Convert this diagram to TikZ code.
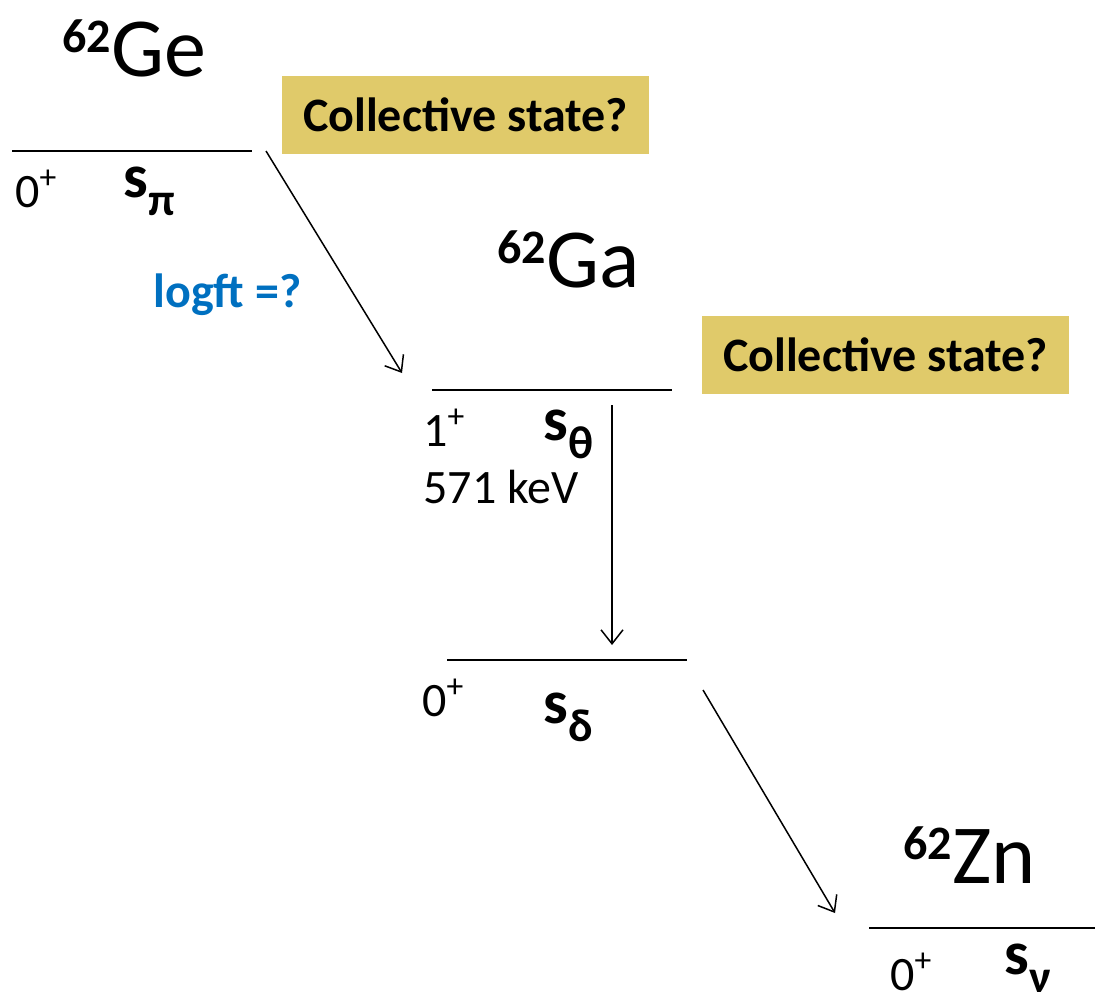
\documentclass[tikz,border=0pt]{standalone}
\usepackage{fontspec}
\setmainfont{Carlito}
\usepackage{xcolor}
\usetikzlibrary{arrows.meta,positioning}

\definecolor{gold}{RGB}{224,202,106}
\definecolor{logblue}{RGB}{0,112,192}

\newcommand{\isotope}[2]{{\fontsize{24pt}{26pt}\selectfont\bfseries\raisebox{12pt}{#1}}{\fontsize{42pt}{45pt}\selectfont #2}}
\newcommand{\spin}[1]{#1\textsuperscript{+}}
\newcommand{\strength}[1]{{\fontsize{31pt}{34pt}\selectfont\bfseries s}\raisebox{-9pt}{\fontsize{23pt}{26pt}\selectfont\bfseries #1}}

\begin{document}
\begin{tikzpicture}[x=0.5pt,y=-0.5pt]
      \tikzset{level/.style={line width=1.25pt}}
      \tikzset{decay/.style={line width=0.75pt,-{Straight Barb[length=7pt,width=11pt]}}}
      \tikzset{nucl/.style={anchor=base west,inner sep=0pt}}
      \tikzset{lbl/.style={anchor=base west,inner sep=0pt,font=\fontsize{24pt}{27pt}\selectfont}}
      \tikzset{question/.style={rectangle,fill=gold,minimum width=183.5pt,minimum height=39pt,inner sep=0pt,font=\fontsize{24pt}{27pt}\selectfont\bfseries}}

      \useasboundingbox (0,0) rectangle (1095,1001);

      % nuclei
      \node[nucl] (ge) at (62,76) {\isotope{62}{Ge}};
      \node[nucl] (ga) at (497,287) {\isotope{62}{Ga}};
      \node[nucl] (zn) at (903,883) {\isotope{62}{Zn}};

      % levels
      \coordinate (gel) at (12,151);
      \coordinate (ger) at (252,151);
      \coordinate (gal) at (432,390);
      \coordinate (gar) at (672,390);
      \coordinate (gsl) at (447,660);
      \coordinate (gsr) at (687,660);
      \coordinate (znl) at (869,928);
      \coordinate (znr) at (1095,928);

      \draw[level] (gel) -- (ger);
      \draw[level] (gal) -- (gar);
      \draw[level] (gsl) -- (gsr);
      \draw[level] (znl) -- (znr);

      % level labels
      \node[lbl] (gespin) at (15,207) {\spin{0}};
      \node[nucl] (ges) at (123,197) {\strength{π}};
      \node[lbl] (gaspin) at (423,446) {\spin{1}};
      \node[nucl] (gas) at (543,440) {\strength{θ}};
      \node[lbl] (gaen) at (423,503) {571 keV};
      \node[lbl] (gsspin) at (422,716) {\spin{0}};
      \node[nucl] (gss) at (543,723) {\strength{δ}};
      \node[lbl] (znspin) at (890,990) {\spin{0}};
      \node[nucl] (zns) at (1004,974) {\strength{ν}};

      \node[lbl,font=\fontsize{24pt}{27pt}\selectfont\bfseries,text=logblue] (logft) at (153,307) {logft =?};

      \node[question] (q1) at (465.5,115) {Collective state?};
      \node[question] (q2) at (885.5,354.5) {Collective state?};

      % transitions
      \coordinate (t1a) at (266,151);
      \coordinate (t1b) at (402,373);
      \coordinate (t2a) at (612,405);
      \coordinate (t2b) at (612,645);
      \coordinate (t3a) at (703,690);
      \coordinate (t3b) at (835,913);

      \draw[decay] (t1a) -- (t1b);
      \draw[decay] (t2a) -- (t2b);
      \draw[decay] (t3a) -- (t3b);

\end{tikzpicture}
\end{document}
